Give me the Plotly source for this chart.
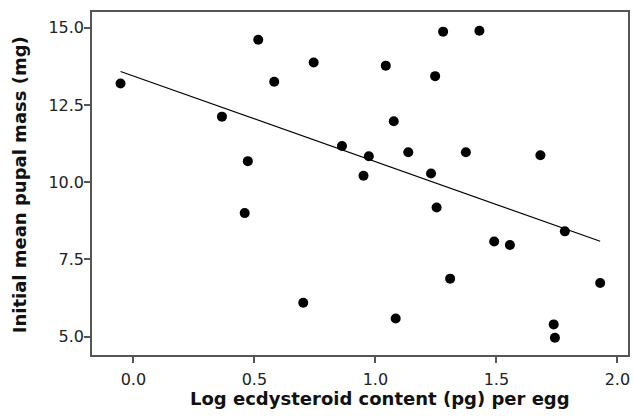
import plotly.graph_objects as go

log_ecdysteroid = [-0.053, 0.366, 0.516, 0.582, 0.745, 0.473, 0.460, 0.702, 0.862, 0.951,
                   0.973, 1.043, 1.076, 1.084, 1.136, 1.230, 1.247, 1.253, 1.280, 1.309,
                   1.374, 1.430, 1.491, 1.556, 1.682, 1.737, 1.742, 1.783, 1.929]
pupal_mass = [13.19, 12.12, 14.61, 13.25, 13.87, 10.68, 9.00, 6.10, 11.17, 10.21,
              10.84, 13.77, 11.97, 5.59, 10.97, 10.28, 13.43, 9.18, 14.87, 6.88,
              10.97, 14.90, 8.08, 7.97, 10.87, 5.40, 4.97, 8.41, 6.74]
fit_x = [-0.053, 1.929]
fit_y = [13.58, 8.09]

x_ticks = [0.0, 0.5, 1.0, 1.5, 2.0]
y_ticks = [5.0, 7.5, 10.0, 12.5, 15.0]

fig = go.Figure()
fig.add_trace(go.Scatter(x=fit_x, y=fit_y, mode="lines",
                         line=dict(color="black", width=1.2), hoverinfo="skip"))
fig.add_trace(go.Scatter(x=log_ecdysteroid, y=pupal_mass, mode="markers",
                         marker=dict(color="black", size=10)))

axis_common = dict(showline=True, linecolor="#555", linewidth=1.5, mirror=True,
                   ticks="outside", ticklen=6, tickcolor="#555", tickwidth=1.5,
                   showgrid=False, zeroline=False,
                   tickfont=dict(family="DejaVu Sans", size=16, color="#222"))

title_font = dict(family="DejaVu Sans", size=18, color="#111", weight="bold")

fig.update_layout(
    width=634, height=419,
    margin=dict(l=92, r=4, t=12, b=64),
    paper_bgcolor="white", plot_bgcolor="white",
    showlegend=False,
    xaxis=dict(range=[-0.171, 2.044], tickvals=x_ticks,
               ticktext=[f"{v:.1f}" for v in x_ticks], ticklabelstandoff=3,
               **axis_common),
    yaxis=dict(range=[4.41, 15.505], tickvals=y_ticks,
               ticktext=[f"{v:.1f}" for v in y_ticks], ticklabelstandoff=-3,
               **axis_common),
    annotations=[
        dict(text="Log ecdysteroid content (pg) per egg", xref="paper", yref="paper",
             x=0.537, y=-0.128, xanchor="center", yanchor="middle",
             showarrow=False, font=title_font),
        dict(text="Initial mean pupal mass (mg)", xref="paper", yref="paper",
             x=-0.1348, y=0.497, xanchor="center", yanchor="middle", textangle=-90,
             showarrow=False, font=title_font),
    ],
)

fig.write_html("out.html")
